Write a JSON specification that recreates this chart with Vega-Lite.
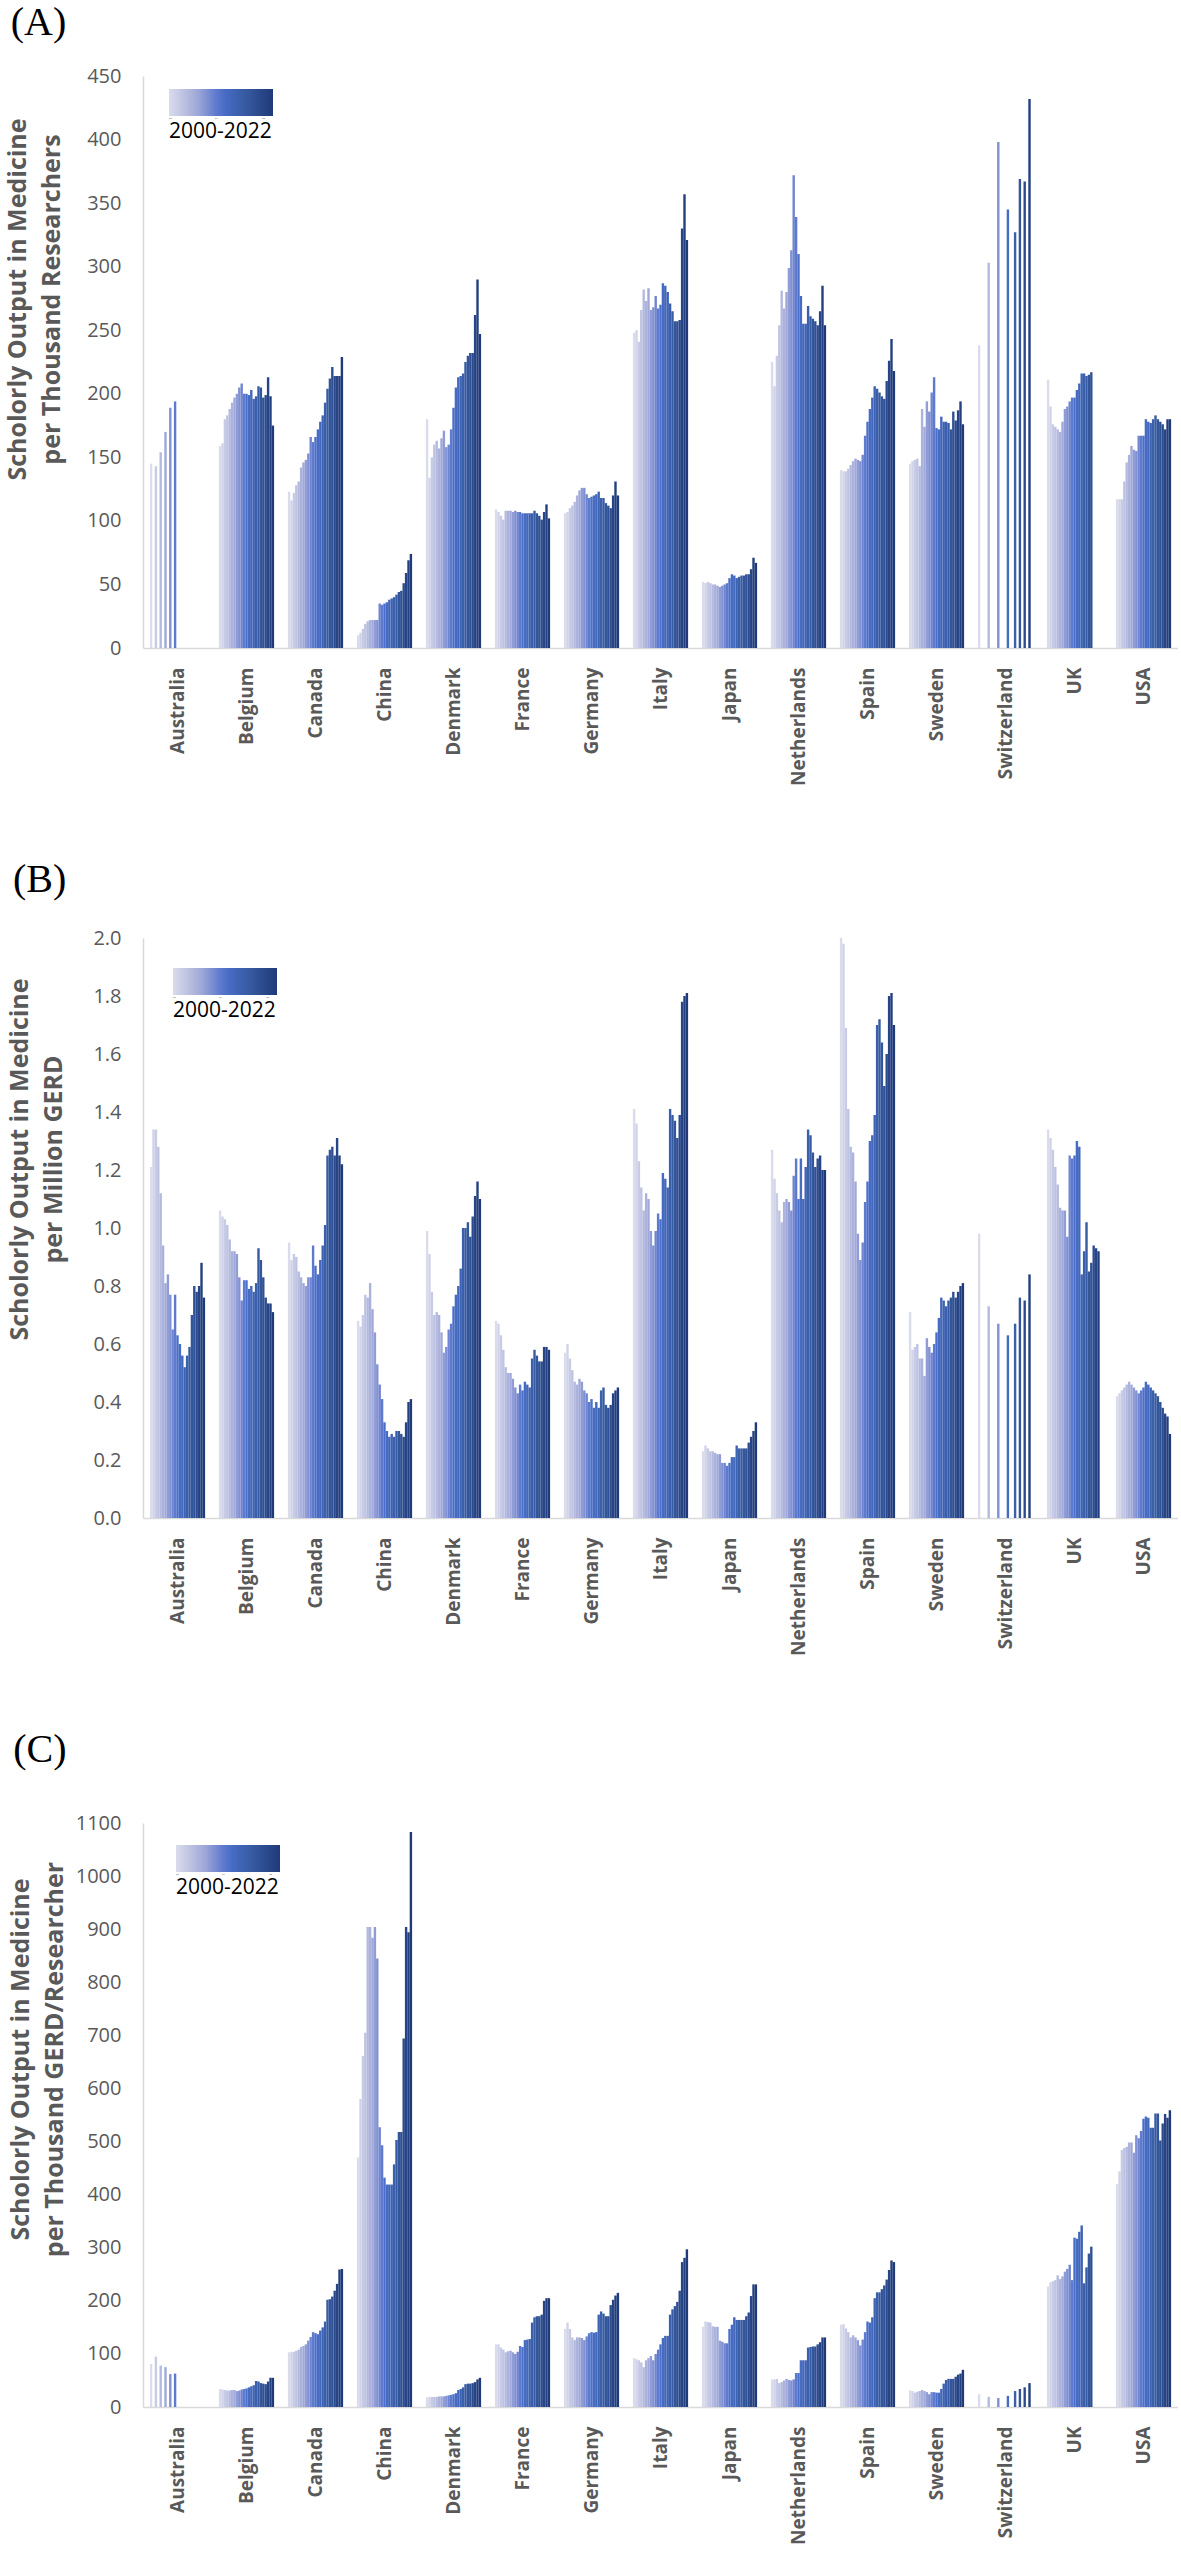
{
  "$schema": "https://vega.github.io/schema/vega-lite/v6.json",
  "description": "Scholarly output in medicine per researchers, per GERD and per GERD/researcher, 15 countries, 2000-2022.",
  "padding": {"top": 3, "left": 5, "right": 0, "bottom": 0},
  "background": "white",
  "datasets": {
    "a": [
      {"country":"Australia","year":2000,"value":145},{"country":"Australia","year":2002,"value":143},{"country":"Australia","year":2004,"value":154},{"country":"Australia","year":2006,"value":170},{"country":"Australia","year":2008,"value":189},{"country":"Australia","year":2010,"value":194},
      {"country":"Belgium","year":2000,"value":159},{"country":"Belgium","year":2001,"value":161},{"country":"Belgium","year":2002,"value":180},{"country":"Belgium","year":2003,"value":183},{"country":"Belgium","year":2004,"value":188},{"country":"Belgium","year":2005,"value":193},{"country":"Belgium","year":2006,"value":197},{"country":"Belgium","year":2007,"value":200},{"country":"Belgium","year":2008,"value":205},{"country":"Belgium","year":2009,"value":208},{"country":"Belgium","year":2010,"value":200},{"country":"Belgium","year":2011,"value":200},{"country":"Belgium","year":2012,"value":199},{"country":"Belgium","year":2013,"value":203},{"country":"Belgium","year":2014,"value":196},{"country":"Belgium","year":2015,"value":198},{"country":"Belgium","year":2016,"value":206},{"country":"Belgium","year":2017,"value":205},{"country":"Belgium","year":2018,"value":197},{"country":"Belgium","year":2019,"value":199},{"country":"Belgium","year":2020,"value":213},{"country":"Belgium","year":2021,"value":198},{"country":"Belgium","year":2022,"value":175},
      {"country":"Canada","year":2000,"value":123},{"country":"Canada","year":2001,"value":116},{"country":"Canada","year":2002,"value":122},{"country":"Canada","year":2003,"value":128},{"country":"Canada","year":2004,"value":131},{"country":"Canada","year":2005,"value":142},{"country":"Canada","year":2006,"value":146},{"country":"Canada","year":2007,"value":148},{"country":"Canada","year":2008,"value":153},{"country":"Canada","year":2009,"value":166},{"country":"Canada","year":2010,"value":162},{"country":"Canada","year":2011,"value":166},{"country":"Canada","year":2012,"value":172},{"country":"Canada","year":2013,"value":178},{"country":"Canada","year":2014,"value":183},{"country":"Canada","year":2015,"value":193},{"country":"Canada","year":2016,"value":204},{"country":"Canada","year":2017,"value":212},{"country":"Canada","year":2018,"value":221},{"country":"Canada","year":2019,"value":214},{"country":"Canada","year":2020,"value":214},{"country":"Canada","year":2021,"value":214},{"country":"Canada","year":2022,"value":229},
      {"country":"China","year":2000,"value":10},{"country":"China","year":2001,"value":12},{"country":"China","year":2002,"value":15},{"country":"China","year":2003,"value":19},{"country":"China","year":2004,"value":21},{"country":"China","year":2005,"value":22},{"country":"China","year":2006,"value":22},{"country":"China","year":2007,"value":22},{"country":"China","year":2008,"value":22},{"country":"China","year":2009,"value":35},{"country":"China","year":2010,"value":34},{"country":"China","year":2011,"value":35},{"country":"China","year":2012,"value":36},{"country":"China","year":2013,"value":38},{"country":"China","year":2014,"value":39},{"country":"China","year":2015,"value":40},{"country":"China","year":2016,"value":42},{"country":"China","year":2017,"value":44},{"country":"China","year":2018,"value":45},{"country":"China","year":2019,"value":51},{"country":"China","year":2020,"value":59},{"country":"China","year":2021,"value":69},{"country":"China","year":2022,"value":74},
      {"country":"Denmark","year":2000,"value":180},{"country":"Denmark","year":2001,"value":134},{"country":"Denmark","year":2002,"value":150},{"country":"Denmark","year":2003,"value":160},{"country":"Denmark","year":2004,"value":163},{"country":"Denmark","year":2005,"value":157},{"country":"Denmark","year":2006,"value":165},{"country":"Denmark","year":2007,"value":171},{"country":"Denmark","year":2008,"value":158},{"country":"Denmark","year":2009,"value":160},{"country":"Denmark","year":2010,"value":172},{"country":"Denmark","year":2011,"value":189},{"country":"Denmark","year":2012,"value":205},{"country":"Denmark","year":2013,"value":213},{"country":"Denmark","year":2014,"value":214},{"country":"Denmark","year":2015,"value":216},{"country":"Denmark","year":2016,"value":225},{"country":"Denmark","year":2017,"value":230},{"country":"Denmark","year":2018,"value":232},{"country":"Denmark","year":2019,"value":232},{"country":"Denmark","year":2020,"value":262},{"country":"Denmark","year":2021,"value":290},{"country":"Denmark","year":2022,"value":247},
      {"country":"France","year":2000,"value":109},{"country":"France","year":2001,"value":107},{"country":"France","year":2002,"value":104},{"country":"France","year":2003,"value":101},{"country":"France","year":2004,"value":108},{"country":"France","year":2005,"value":108},{"country":"France","year":2006,"value":108},{"country":"France","year":2007,"value":107},{"country":"France","year":2008,"value":108},{"country":"France","year":2009,"value":107},{"country":"France","year":2010,"value":107},{"country":"France","year":2011,"value":106},{"country":"France","year":2012,"value":106},{"country":"France","year":2013,"value":106},{"country":"France","year":2014,"value":106},{"country":"France","year":2015,"value":106},{"country":"France","year":2016,"value":108},{"country":"France","year":2017,"value":106},{"country":"France","year":2018,"value":104},{"country":"France","year":2019,"value":101},{"country":"France","year":2020,"value":107},{"country":"France","year":2021,"value":113},{"country":"France","year":2022,"value":102},
      {"country":"Germany","year":2000,"value":106},{"country":"Germany","year":2001,"value":107},{"country":"Germany","year":2002,"value":110},{"country":"Germany","year":2003,"value":112},{"country":"Germany","year":2004,"value":115},{"country":"Germany","year":2005,"value":120},{"country":"Germany","year":2006,"value":124},{"country":"Germany","year":2007,"value":126},{"country":"Germany","year":2008,"value":126},{"country":"Germany","year":2009,"value":121},{"country":"Germany","year":2010,"value":118},{"country":"Germany","year":2011,"value":119},{"country":"Germany","year":2012,"value":120},{"country":"Germany","year":2013,"value":121},{"country":"Germany","year":2014,"value":123},{"country":"Germany","year":2015,"value":118},{"country":"Germany","year":2016,"value":118},{"country":"Germany","year":2017,"value":114},{"country":"Germany","year":2018,"value":112},{"country":"Germany","year":2019,"value":110},{"country":"Germany","year":2020,"value":120},{"country":"Germany","year":2021,"value":131},{"country":"Germany","year":2022,"value":120},
      {"country":"Italy","year":2000,"value":248},{"country":"Italy","year":2001,"value":250},{"country":"Italy","year":2002,"value":241},{"country":"Italy","year":2003,"value":266},{"country":"Italy","year":2004,"value":282},{"country":"Italy","year":2005,"value":273},{"country":"Italy","year":2006,"value":283},{"country":"Italy","year":2007,"value":266},{"country":"Italy","year":2008,"value":268},{"country":"Italy","year":2009,"value":277},{"country":"Italy","year":2010,"value":267},{"country":"Italy","year":2011,"value":270},{"country":"Italy","year":2012,"value":287},{"country":"Italy","year":2013,"value":285},{"country":"Italy","year":2014,"value":280},{"country":"Italy","year":2015,"value":271},{"country":"Italy","year":2016,"value":265},{"country":"Italy","year":2017,"value":257},{"country":"Italy","year":2018,"value":257},{"country":"Italy","year":2019,"value":258},{"country":"Italy","year":2020,"value":330},{"country":"Italy","year":2021,"value":357},{"country":"Italy","year":2022,"value":321},
      {"country":"Japan","year":2000,"value":52},{"country":"Japan","year":2001,"value":51},{"country":"Japan","year":2002,"value":52},{"country":"Japan","year":2003,"value":51},{"country":"Japan","year":2004,"value":50},{"country":"Japan","year":2005,"value":50},{"country":"Japan","year":2006,"value":49},{"country":"Japan","year":2007,"value":48},{"country":"Japan","year":2008,"value":49},{"country":"Japan","year":2009,"value":50},{"country":"Japan","year":2010,"value":51},{"country":"Japan","year":2011,"value":55},{"country":"Japan","year":2012,"value":58},{"country":"Japan","year":2013,"value":57},{"country":"Japan","year":2014,"value":55},{"country":"Japan","year":2015,"value":56},{"country":"Japan","year":2016,"value":57},{"country":"Japan","year":2017,"value":57},{"country":"Japan","year":2018,"value":58},{"country":"Japan","year":2019,"value":58},{"country":"Japan","year":2020,"value":62},{"country":"Japan","year":2021,"value":71},{"country":"Japan","year":2022,"value":67},
      {"country":"Netherlands","year":2000,"value":225},{"country":"Netherlands","year":2001,"value":206},{"country":"Netherlands","year":2002,"value":230},{"country":"Netherlands","year":2003,"value":254},{"country":"Netherlands","year":2004,"value":281},{"country":"Netherlands","year":2005,"value":267},{"country":"Netherlands","year":2006,"value":280},{"country":"Netherlands","year":2007,"value":299},{"country":"Netherlands","year":2008,"value":313},{"country":"Netherlands","year":2009,"value":372},{"country":"Netherlands","year":2010,"value":339},{"country":"Netherlands","year":2011,"value":310},{"country":"Netherlands","year":2012,"value":277},{"country":"Netherlands","year":2013,"value":255},{"country":"Netherlands","year":2014,"value":255},{"country":"Netherlands","year":2015,"value":269},{"country":"Netherlands","year":2016,"value":261},{"country":"Netherlands","year":2017,"value":259},{"country":"Netherlands","year":2018,"value":257},{"country":"Netherlands","year":2019,"value":254},{"country":"Netherlands","year":2020,"value":265},{"country":"Netherlands","year":2021,"value":285},{"country":"Netherlands","year":2022,"value":254},
      {"country":"Spain","year":2000,"value":140},{"country":"Spain","year":2001,"value":139},{"country":"Spain","year":2002,"value":139},{"country":"Spain","year":2003,"value":141},{"country":"Spain","year":2004,"value":144},{"country":"Spain","year":2005,"value":147},{"country":"Spain","year":2006,"value":149},{"country":"Spain","year":2007,"value":148},{"country":"Spain","year":2008,"value":147},{"country":"Spain","year":2009,"value":152},{"country":"Spain","year":2010,"value":167},{"country":"Spain","year":2011,"value":178},{"country":"Spain","year":2012,"value":188},{"country":"Spain","year":2013,"value":197},{"country":"Spain","year":2014,"value":206},{"country":"Spain","year":2015,"value":204},{"country":"Spain","year":2016,"value":201},{"country":"Spain","year":2017,"value":198},{"country":"Spain","year":2018,"value":196},{"country":"Spain","year":2019,"value":210},{"country":"Spain","year":2020,"value":226},{"country":"Spain","year":2021,"value":243},{"country":"Spain","year":2022,"value":218},
      {"country":"Sweden","year":2000,"value":145},{"country":"Sweden","year":2001,"value":147},{"country":"Sweden","year":2002,"value":148},{"country":"Sweden","year":2003,"value":149},{"country":"Sweden","year":2004,"value":143},{"country":"Sweden","year":2005,"value":188},{"country":"Sweden","year":2006,"value":174},{"country":"Sweden","year":2007,"value":194},{"country":"Sweden","year":2008,"value":186},{"country":"Sweden","year":2009,"value":201},{"country":"Sweden","year":2010,"value":213},{"country":"Sweden","year":2011,"value":173},{"country":"Sweden","year":2012,"value":172},{"country":"Sweden","year":2013,"value":182},{"country":"Sweden","year":2014,"value":178},{"country":"Sweden","year":2015,"value":178},{"country":"Sweden","year":2016,"value":177},{"country":"Sweden","year":2017,"value":172},{"country":"Sweden","year":2018,"value":186},{"country":"Sweden","year":2019,"value":179},{"country":"Sweden","year":2020,"value":187},{"country":"Sweden","year":2021,"value":194},{"country":"Sweden","year":2022,"value":176},
      {"country":"Switzerland","year":2000,"value":238},{"country":"Switzerland","year":2004,"value":303},{"country":"Switzerland","year":2008,"value":398},{"country":"Switzerland","year":2012,"value":345},{"country":"Switzerland","year":2015,"value":327},{"country":"Switzerland","year":2017,"value":369},{"country":"Switzerland","year":2019,"value":367},{"country":"Switzerland","year":2021,"value":432},
      {"country":"UK","year":2000,"value":211},{"country":"UK","year":2001,"value":190},{"country":"UK","year":2002,"value":176},{"country":"UK","year":2003,"value":174},{"country":"UK","year":2004,"value":172},{"country":"UK","year":2005,"value":170},{"country":"UK","year":2006,"value":178},{"country":"UK","year":2007,"value":188},{"country":"UK","year":2008,"value":190},{"country":"UK","year":2009,"value":194},{"country":"UK","year":2010,"value":197},{"country":"UK","year":2011,"value":197},{"country":"UK","year":2012,"value":203},{"country":"UK","year":2013,"value":208},{"country":"UK","year":2014,"value":216},{"country":"UK","year":2015,"value":216},{"country":"UK","year":2016,"value":214},{"country":"UK","year":2017,"value":215},{"country":"UK","year":2018,"value":217},
      {"country":"USA","year":2000,"value":117},{"country":"USA","year":2001,"value":117},{"country":"USA","year":2002,"value":117},{"country":"USA","year":2003,"value":131},{"country":"USA","year":2004,"value":146},{"country":"USA","year":2005,"value":152},{"country":"USA","year":2006,"value":159},{"country":"USA","year":2007,"value":156},{"country":"USA","year":2008,"value":155},{"country":"USA","year":2009,"value":167},{"country":"USA","year":2010,"value":167},{"country":"USA","year":2011,"value":167},{"country":"USA","year":2012,"value":180},{"country":"USA","year":2013,"value":178},{"country":"USA","year":2014,"value":177},{"country":"USA","year":2015,"value":180},{"country":"USA","year":2016,"value":183},{"country":"USA","year":2017,"value":180},{"country":"USA","year":2018,"value":178},{"country":"USA","year":2019,"value":176},{"country":"USA","year":2020,"value":172},{"country":"USA","year":2021,"value":180},{"country":"USA","year":2022,"value":180}
    ],
    "b": [
      {"country":"Australia","year":2000,"value":1.21},{"country":"Australia","year":2001,"value":1.34},{"country":"Australia","year":2002,"value":1.34},{"country":"Australia","year":2003,"value":1.28},{"country":"Australia","year":2004,"value":1.12},{"country":"Australia","year":2005,"value":0.94},{"country":"Australia","year":2006,"value":0.81},{"country":"Australia","year":2007,"value":0.84},{"country":"Australia","year":2008,"value":0.77},{"country":"Australia","year":2009,"value":0.65},{"country":"Australia","year":2010,"value":0.77},{"country":"Australia","year":2011,"value":0.63},{"country":"Australia","year":2012,"value":0.6},{"country":"Australia","year":2013,"value":0.56},{"country":"Australia","year":2014,"value":0.52},{"country":"Australia","year":2015,"value":0.56},{"country":"Australia","year":2016,"value":0.59},{"country":"Australia","year":2017,"value":0.7},{"country":"Australia","year":2018,"value":0.8},{"country":"Australia","year":2019,"value":0.78},{"country":"Australia","year":2020,"value":0.8},{"country":"Australia","year":2021,"value":0.88},{"country":"Australia","year":2022,"value":0.76},
      {"country":"Belgium","year":2000,"value":1.06},{"country":"Belgium","year":2001,"value":1.04},{"country":"Belgium","year":2002,"value":1.03},{"country":"Belgium","year":2003,"value":1.01},{"country":"Belgium","year":2004,"value":0.96},{"country":"Belgium","year":2005,"value":0.92},{"country":"Belgium","year":2006,"value":0.92},{"country":"Belgium","year":2007,"value":0.91},{"country":"Belgium","year":2008,"value":0.83},{"country":"Belgium","year":2009,"value":0.75},{"country":"Belgium","year":2010,"value":0.82},{"country":"Belgium","year":2011,"value":0.82},{"country":"Belgium","year":2012,"value":0.79},{"country":"Belgium","year":2013,"value":0.8},{"country":"Belgium","year":2014,"value":0.78},{"country":"Belgium","year":2015,"value":0.81},{"country":"Belgium","year":2016,"value":0.93},{"country":"Belgium","year":2017,"value":0.89},{"country":"Belgium","year":2018,"value":0.83},{"country":"Belgium","year":2019,"value":0.76},{"country":"Belgium","year":2020,"value":0.74},{"country":"Belgium","year":2021,"value":0.74},{"country":"Belgium","year":2022,"value":0.71},
      {"country":"Canada","year":2000,"value":0.95},{"country":"Canada","year":2001,"value":0.89},{"country":"Canada","year":2002,"value":0.91},{"country":"Canada","year":2003,"value":0.9},{"country":"Canada","year":2004,"value":0.85},{"country":"Canada","year":2005,"value":0.83},{"country":"Canada","year":2006,"value":0.81},{"country":"Canada","year":2007,"value":0.8},{"country":"Canada","year":2008,"value":0.83},{"country":"Canada","year":2009,"value":0.83},{"country":"Canada","year":2010,"value":0.94},{"country":"Canada","year":2011,"value":0.87},{"country":"Canada","year":2012,"value":0.84},{"country":"Canada","year":2013,"value":0.89},{"country":"Canada","year":2014,"value":0.94},{"country":"Canada","year":2015,"value":1.01},{"country":"Canada","year":2016,"value":1.25},{"country":"Canada","year":2017,"value":1.27},{"country":"Canada","year":2018,"value":1.28},{"country":"Canada","year":2019,"value":1.25},{"country":"Canada","year":2020,"value":1.31},{"country":"Canada","year":2021,"value":1.25},{"country":"Canada","year":2022,"value":1.22},
      {"country":"China","year":2000,"value":0.68},{"country":"China","year":2001,"value":0.66},{"country":"China","year":2002,"value":0.7},{"country":"China","year":2003,"value":0.77},{"country":"China","year":2004,"value":0.76},{"country":"China","year":2005,"value":0.81},{"country":"China","year":2006,"value":0.72},{"country":"China","year":2007,"value":0.64},{"country":"China","year":2008,"value":0.53},{"country":"China","year":2009,"value":0.46},{"country":"China","year":2010,"value":0.41},{"country":"China","year":2011,"value":0.33},{"country":"China","year":2012,"value":0.3},{"country":"China","year":2013,"value":0.28},{"country":"China","year":2014,"value":0.29},{"country":"China","year":2015,"value":0.28},{"country":"China","year":2016,"value":0.3},{"country":"China","year":2017,"value":0.3},{"country":"China","year":2018,"value":0.29},{"country":"China","year":2019,"value":0.28},{"country":"China","year":2020,"value":0.33},{"country":"China","year":2021,"value":0.4},{"country":"China","year":2022,"value":0.41},
      {"country":"Denmark","year":2000,"value":0.99},{"country":"Denmark","year":2001,"value":0.91},{"country":"Denmark","year":2002,"value":0.78},{"country":"Denmark","year":2003,"value":0.7},{"country":"Denmark","year":2004,"value":0.71},{"country":"Denmark","year":2005,"value":0.7},{"country":"Denmark","year":2006,"value":0.64},{"country":"Denmark","year":2007,"value":0.57},{"country":"Denmark","year":2008,"value":0.59},{"country":"Denmark","year":2009,"value":0.65},{"country":"Denmark","year":2010,"value":0.67},{"country":"Denmark","year":2011,"value":0.73},{"country":"Denmark","year":2012,"value":0.77},{"country":"Denmark","year":2013,"value":0.8},{"country":"Denmark","year":2014,"value":0.86},{"country":"Denmark","year":2015,"value":1.0},{"country":"Denmark","year":2016,"value":1.0},{"country":"Denmark","year":2017,"value":1.02},{"country":"Denmark","year":2018,"value":0.97},{"country":"Denmark","year":2019,"value":1.04},{"country":"Denmark","year":2020,"value":1.11},{"country":"Denmark","year":2021,"value":1.16},{"country":"Denmark","year":2022,"value":1.1},
      {"country":"France","year":2000,"value":0.68},{"country":"France","year":2001,"value":0.67},{"country":"France","year":2002,"value":0.63},{"country":"France","year":2003,"value":0.58},{"country":"France","year":2004,"value":0.52},{"country":"France","year":2005,"value":0.5},{"country":"France","year":2006,"value":0.5},{"country":"France","year":2007,"value":0.48},{"country":"France","year":2008,"value":0.45},{"country":"France","year":2009,"value":0.43},{"country":"France","year":2010,"value":0.46},{"country":"France","year":2011,"value":0.44},{"country":"France","year":2012,"value":0.47},{"country":"France","year":2013,"value":0.46},{"country":"France","year":2014,"value":0.45},{"country":"France","year":2015,"value":0.55},{"country":"France","year":2016,"value":0.58},{"country":"France","year":2017,"value":0.56},{"country":"France","year":2018,"value":0.54},{"country":"France","year":2019,"value":0.54},{"country":"France","year":2020,"value":0.59},{"country":"France","year":2021,"value":0.59},{"country":"France","year":2022,"value":0.58},
      {"country":"Germany","year":2000,"value":0.57},{"country":"Germany","year":2001,"value":0.6},{"country":"Germany","year":2002,"value":0.55},{"country":"Germany","year":2003,"value":0.51},{"country":"Germany","year":2004,"value":0.47},{"country":"Germany","year":2005,"value":0.46},{"country":"Germany","year":2006,"value":0.48},{"country":"Germany","year":2007,"value":0.47},{"country":"Germany","year":2008,"value":0.44},{"country":"Germany","year":2009,"value":0.43},{"country":"Germany","year":2010,"value":0.4},{"country":"Germany","year":2011,"value":0.41},{"country":"Germany","year":2012,"value":0.38},{"country":"Germany","year":2013,"value":0.4},{"country":"Germany","year":2014,"value":0.38},{"country":"Germany","year":2015,"value":0.44},{"country":"Germany","year":2016,"value":0.45},{"country":"Germany","year":2017,"value":0.39},{"country":"Germany","year":2018,"value":0.38},{"country":"Germany","year":2019,"value":0.39},{"country":"Germany","year":2020,"value":0.43},{"country":"Germany","year":2021,"value":0.44},{"country":"Germany","year":2022,"value":0.45},
      {"country":"Italy","year":2000,"value":1.41},{"country":"Italy","year":2001,"value":1.36},{"country":"Italy","year":2002,"value":1.23},{"country":"Italy","year":2003,"value":1.14},{"country":"Italy","year":2004,"value":1.06},{"country":"Italy","year":2005,"value":1.12},{"country":"Italy","year":2006,"value":1.1},{"country":"Italy","year":2007,"value":0.99},{"country":"Italy","year":2008,"value":0.94},{"country":"Italy","year":2009,"value":0.99},{"country":"Italy","year":2010,"value":1.05},{"country":"Italy","year":2011,"value":1.03},{"country":"Italy","year":2012,"value":1.19},{"country":"Italy","year":2013,"value":1.17},{"country":"Italy","year":2014,"value":1.14},{"country":"Italy","year":2015,"value":1.41},{"country":"Italy","year":2016,"value":1.39},{"country":"Italy","year":2017,"value":1.37},{"country":"Italy","year":2018,"value":1.31},{"country":"Italy","year":2019,"value":1.39},{"country":"Italy","year":2020,"value":1.78},{"country":"Italy","year":2021,"value":1.8},{"country":"Italy","year":2022,"value":1.81},
      {"country":"Japan","year":2000,"value":0.23},{"country":"Japan","year":2001,"value":0.25},{"country":"Japan","year":2002,"value":0.24},{"country":"Japan","year":2003,"value":0.23},{"country":"Japan","year":2004,"value":0.23},{"country":"Japan","year":2005,"value":0.225},{"country":"Japan","year":2006,"value":0.22},{"country":"Japan","year":2007,"value":0.22},{"country":"Japan","year":2008,"value":0.19},{"country":"Japan","year":2009,"value":0.19},{"country":"Japan","year":2010,"value":0.18},{"country":"Japan","year":2011,"value":0.19},{"country":"Japan","year":2012,"value":0.21},{"country":"Japan","year":2013,"value":0.21},{"country":"Japan","year":2014,"value":0.25},{"country":"Japan","year":2015,"value":0.24},{"country":"Japan","year":2016,"value":0.24},{"country":"Japan","year":2017,"value":0.24},{"country":"Japan","year":2018,"value":0.24},{"country":"Japan","year":2019,"value":0.26},{"country":"Japan","year":2020,"value":0.28},{"country":"Japan","year":2021,"value":0.3},{"country":"Japan","year":2022,"value":0.33},
      {"country":"Netherlands","year":2000,"value":1.27},{"country":"Netherlands","year":2001,"value":1.17},{"country":"Netherlands","year":2002,"value":1.12},{"country":"Netherlands","year":2003,"value":1.06},{"country":"Netherlands","year":2004,"value":1.02},{"country":"Netherlands","year":2005,"value":1.09},{"country":"Netherlands","year":2006,"value":1.1},{"country":"Netherlands","year":2007,"value":1.09},{"country":"Netherlands","year":2008,"value":1.06},{"country":"Netherlands","year":2009,"value":1.18},{"country":"Netherlands","year":2010,"value":1.24},{"country":"Netherlands","year":2011,"value":1.1},{"country":"Netherlands","year":2012,"value":1.24},{"country":"Netherlands","year":2013,"value":1.1},{"country":"Netherlands","year":2014,"value":1.21},{"country":"Netherlands","year":2015,"value":1.34},{"country":"Netherlands","year":2016,"value":1.32},{"country":"Netherlands","year":2017,"value":1.26},{"country":"Netherlands","year":2018,"value":1.21},{"country":"Netherlands","year":2019,"value":1.24},{"country":"Netherlands","year":2020,"value":1.25},{"country":"Netherlands","year":2021,"value":1.2},{"country":"Netherlands","year":2022,"value":1.2},
      {"country":"Spain","year":2000,"value":2.0},{"country":"Spain","year":2001,"value":1.98},{"country":"Spain","year":2002,"value":1.69},{"country":"Spain","year":2003,"value":1.41},{"country":"Spain","year":2004,"value":1.28},{"country":"Spain","year":2005,"value":1.26},{"country":"Spain","year":2006,"value":1.16},{"country":"Spain","year":2007,"value":0.98},{"country":"Spain","year":2008,"value":0.89},{"country":"Spain","year":2009,"value":0.95},{"country":"Spain","year":2010,"value":1.09},{"country":"Spain","year":2011,"value":1.16},{"country":"Spain","year":2012,"value":1.3},{"country":"Spain","year":2013,"value":1.32},{"country":"Spain","year":2014,"value":1.39},{"country":"Spain","year":2015,"value":1.7},{"country":"Spain","year":2016,"value":1.72},{"country":"Spain","year":2017,"value":1.64},{"country":"Spain","year":2018,"value":1.49},{"country":"Spain","year":2019,"value":1.6},{"country":"Spain","year":2020,"value":1.8},{"country":"Spain","year":2021,"value":1.81},{"country":"Spain","year":2022,"value":1.7},
      {"country":"Sweden","year":2000,"value":0.71},{"country":"Sweden","year":2001,"value":0.58},{"country":"Sweden","year":2002,"value":0.59},{"country":"Sweden","year":2003,"value":0.6},{"country":"Sweden","year":2004,"value":0.55},{"country":"Sweden","year":2005,"value":0.55},{"country":"Sweden","year":2006,"value":0.49},{"country":"Sweden","year":2007,"value":0.62},{"country":"Sweden","year":2008,"value":0.59},{"country":"Sweden","year":2009,"value":0.57},{"country":"Sweden","year":2010,"value":0.6},{"country":"Sweden","year":2011,"value":0.64},{"country":"Sweden","year":2012,"value":0.69},{"country":"Sweden","year":2013,"value":0.76},{"country":"Sweden","year":2014,"value":0.75},{"country":"Sweden","year":2015,"value":0.73},{"country":"Sweden","year":2016,"value":0.75},{"country":"Sweden","year":2017,"value":0.76},{"country":"Sweden","year":2018,"value":0.78},{"country":"Sweden","year":2019,"value":0.76},{"country":"Sweden","year":2020,"value":0.78},{"country":"Sweden","year":2021,"value":0.8},{"country":"Sweden","year":2022,"value":0.81},
      {"country":"Switzerland","year":2000,"value":0.98},{"country":"Switzerland","year":2004,"value":0.73},{"country":"Switzerland","year":2008,"value":0.67},{"country":"Switzerland","year":2012,"value":0.63},{"country":"Switzerland","year":2015,"value":0.67},{"country":"Switzerland","year":2017,"value":0.76},{"country":"Switzerland","year":2019,"value":0.75},{"country":"Switzerland","year":2021,"value":0.84},
      {"country":"UK","year":2000,"value":1.34},{"country":"UK","year":2001,"value":1.31},{"country":"UK","year":2002,"value":1.27},{"country":"UK","year":2003,"value":1.21},{"country":"UK","year":2004,"value":1.15},{"country":"UK","year":2005,"value":1.07},{"country":"UK","year":2006,"value":1.06},{"country":"UK","year":2007,"value":1.06},{"country":"UK","year":2008,"value":0.97},{"country":"UK","year":2009,"value":1.25},{"country":"UK","year":2010,"value":1.24},{"country":"UK","year":2011,"value":1.25},{"country":"UK","year":2012,"value":1.3},{"country":"UK","year":2013,"value":1.28},{"country":"UK","year":2014,"value":0.84},{"country":"UK","year":2015,"value":0.92},{"country":"UK","year":2016,"value":1.02},{"country":"UK","year":2017,"value":0.85},{"country":"UK","year":2018,"value":0.88},{"country":"UK","year":2019,"value":0.94},{"country":"UK","year":2020,"value":0.93},{"country":"UK","year":2021,"value":0.92},
      {"country":"USA","year":2000,"value":0.42},{"country":"USA","year":2001,"value":0.43},{"country":"USA","year":2002,"value":0.44},{"country":"USA","year":2003,"value":0.45},{"country":"USA","year":2004,"value":0.46},{"country":"USA","year":2005,"value":0.47},{"country":"USA","year":2006,"value":0.46},{"country":"USA","year":2007,"value":0.45},{"country":"USA","year":2008,"value":0.44},{"country":"USA","year":2009,"value":0.43},{"country":"USA","year":2010,"value":0.44},{"country":"USA","year":2011,"value":0.45},{"country":"USA","year":2012,"value":0.47},{"country":"USA","year":2013,"value":0.46},{"country":"USA","year":2014,"value":0.45},{"country":"USA","year":2015,"value":0.44},{"country":"USA","year":2016,"value":0.43},{"country":"USA","year":2017,"value":0.42},{"country":"USA","year":2018,"value":0.4},{"country":"USA","year":2019,"value":0.38},{"country":"USA","year":2020,"value":0.36},{"country":"USA","year":2021,"value":0.35},{"country":"USA","year":2022,"value":0.29}
    ],
    "c": [
      {"country":"Australia","year":2000,"value":81},{"country":"Australia","year":2002,"value":95},{"country":"Australia","year":2004,"value":78},{"country":"Australia","year":2006,"value":75},{"country":"Australia","year":2008,"value":62},{"country":"Australia","year":2010,"value":63},
      {"country":"Belgium","year":2000,"value":34},{"country":"Belgium","year":2001,"value":33},{"country":"Belgium","year":2002,"value":32},{"country":"Belgium","year":2003,"value":31},{"country":"Belgium","year":2004,"value":31},{"country":"Belgium","year":2005,"value":32},{"country":"Belgium","year":2006,"value":32},{"country":"Belgium","year":2007,"value":30},{"country":"Belgium","year":2008,"value":31},{"country":"Belgium","year":2009,"value":33},{"country":"Belgium","year":2010,"value":34},{"country":"Belgium","year":2011,"value":35},{"country":"Belgium","year":2012,"value":37},{"country":"Belgium","year":2013,"value":39},{"country":"Belgium","year":2014,"value":41},{"country":"Belgium","year":2015,"value":49},{"country":"Belgium","year":2016,"value":48},{"country":"Belgium","year":2017,"value":45},{"country":"Belgium","year":2018,"value":44},{"country":"Belgium","year":2019,"value":43},{"country":"Belgium","year":2020,"value":48},{"country":"Belgium","year":2021,"value":55},{"country":"Belgium","year":2022,"value":55},
      {"country":"Canada","year":2000,"value":103},{"country":"Canada","year":2001,"value":104},{"country":"Canada","year":2002,"value":104},{"country":"Canada","year":2003,"value":106},{"country":"Canada","year":2004,"value":108},{"country":"Canada","year":2005,"value":113},{"country":"Canada","year":2006,"value":115},{"country":"Canada","year":2007,"value":118},{"country":"Canada","year":2008,"value":125},{"country":"Canada","year":2009,"value":132},{"country":"Canada","year":2010,"value":141},{"country":"Canada","year":2011,"value":139},{"country":"Canada","year":2012,"value":137},{"country":"Canada","year":2013,"value":144},{"country":"Canada","year":2014,"value":150},{"country":"Canada","year":2015,"value":161},{"country":"Canada","year":2016,"value":202},{"country":"Canada","year":2017,"value":203},{"country":"Canada","year":2018,"value":208},{"country":"Canada","year":2019,"value":219},{"country":"Canada","year":2020,"value":232},{"country":"Canada","year":2021,"value":259},{"country":"Canada","year":2022,"value":260},
      {"country":"China","year":2000,"value":470},{"country":"China","year":2001,"value":580},{"country":"China","year":2002,"value":661},{"country":"China","year":2003,"value":705},{"country":"China","year":2004,"value":904},{"country":"China","year":2005,"value":904},{"country":"China","year":2006,"value":884},{"country":"China","year":2007,"value":904},{"country":"China","year":2008,"value":845},{"country":"China","year":2009,"value":527},{"country":"China","year":2010,"value":493},{"country":"China","year":2011,"value":432},{"country":"China","year":2012,"value":419},{"country":"China","year":2013,"value":419},{"country":"China","year":2014,"value":419},{"country":"China","year":2015,"value":457},{"country":"China","year":2016,"value":503},{"country":"China","year":2017,"value":518},{"country":"China","year":2018,"value":518},{"country":"China","year":2019,"value":694},{"country":"China","year":2020,"value":904},{"country":"China","year":2021,"value":894},{"country":"China","year":2022,"value":1083},
      {"country":"Denmark","year":2000,"value":18},{"country":"Denmark","year":2001,"value":19},{"country":"Denmark","year":2002,"value":19},{"country":"Denmark","year":2003,"value":19},{"country":"Denmark","year":2004,"value":19},{"country":"Denmark","year":2005,"value":20},{"country":"Denmark","year":2006,"value":20},{"country":"Denmark","year":2007,"value":20},{"country":"Denmark","year":2008,"value":21},{"country":"Denmark","year":2009,"value":22},{"country":"Denmark","year":2010,"value":23},{"country":"Denmark","year":2011,"value":24},{"country":"Denmark","year":2012,"value":26},{"country":"Denmark","year":2013,"value":32},{"country":"Denmark","year":2014,"value":34},{"country":"Denmark","year":2015,"value":37},{"country":"Denmark","year":2016,"value":43},{"country":"Denmark","year":2017,"value":44},{"country":"Denmark","year":2018,"value":44},{"country":"Denmark","year":2019,"value":45},{"country":"Denmark","year":2020,"value":47},{"country":"Denmark","year":2021,"value":52},{"country":"Denmark","year":2022,"value":55},
      {"country":"France","year":2000,"value":118},{"country":"France","year":2001,"value":118},{"country":"France","year":2002,"value":112},{"country":"France","year":2003,"value":108},{"country":"France","year":2004,"value":103},{"country":"France","year":2005,"value":105},{"country":"France","year":2006,"value":106},{"country":"France","year":2007,"value":103},{"country":"France","year":2008,"value":100},{"country":"France","year":2009,"value":104},{"country":"France","year":2010,"value":115},{"country":"France","year":2011,"value":113},{"country":"France","year":2012,"value":126},{"country":"France","year":2013,"value":127},{"country":"France","year":2014,"value":128},{"country":"France","year":2015,"value":159},{"country":"France","year":2016,"value":169},{"country":"France","year":2017,"value":171},{"country":"France","year":2018,"value":171},{"country":"France","year":2019,"value":174},{"country":"France","year":2020,"value":200},{"country":"France","year":2021,"value":205},{"country":"France","year":2022,"value":205},
      {"country":"Germany","year":2000,"value":147},{"country":"Germany","year":2001,"value":159},{"country":"Germany","year":2002,"value":147},{"country":"Germany","year":2003,"value":131},{"country":"Germany","year":2004,"value":126},{"country":"Germany","year":2005,"value":131},{"country":"Germany","year":2006,"value":131},{"country":"Germany","year":2007,"value":130},{"country":"Germany","year":2008,"value":126},{"country":"Germany","year":2009,"value":133},{"country":"Germany","year":2010,"value":139},{"country":"Germany","year":2011,"value":141},{"country":"Germany","year":2012,"value":140},{"country":"Germany","year":2013,"value":141},{"country":"Germany","year":2014,"value":174},{"country":"Germany","year":2015,"value":180},{"country":"Germany","year":2016,"value":176},{"country":"Germany","year":2017,"value":171},{"country":"Germany","year":2018,"value":171},{"country":"Germany","year":2019,"value":192},{"country":"Germany","year":2020,"value":202},{"country":"Germany","year":2021,"value":210},{"country":"Germany","year":2022,"value":215},
      {"country":"Italy","year":2000,"value":92},{"country":"Italy","year":2001,"value":90},{"country":"Italy","year":2002,"value":88},{"country":"Italy","year":2003,"value":84},{"country":"Italy","year":2004,"value":75},{"country":"Italy","year":2005,"value":88},{"country":"Italy","year":2006,"value":92},{"country":"Italy","year":2007,"value":96},{"country":"Italy","year":2008,"value":88},{"country":"Italy","year":2009,"value":100},{"country":"Italy","year":2010,"value":108},{"country":"Italy","year":2011,"value":118},{"country":"Italy","year":2012,"value":130},{"country":"Italy","year":2013,"value":134},{"country":"Italy","year":2014,"value":134},{"country":"Italy","year":2015,"value":174},{"country":"Italy","year":2016,"value":184},{"country":"Italy","year":2017,"value":190},{"country":"Italy","year":2018,"value":198},{"country":"Italy","year":2019,"value":219},{"country":"Italy","year":2020,"value":273},{"country":"Italy","year":2021,"value":281},{"country":"Italy","year":2022,"value":297},
      {"country":"Japan","year":2000,"value":151},{"country":"Japan","year":2001,"value":161},{"country":"Japan","year":2002,"value":160},{"country":"Japan","year":2003,"value":159},{"country":"Japan","year":2004,"value":152},{"country":"Japan","year":2005,"value":151},{"country":"Japan","year":2006,"value":151},{"country":"Japan","year":2007,"value":125},{"country":"Japan","year":2008,"value":123},{"country":"Japan","year":2009,"value":120},{"country":"Japan","year":2010,"value":120},{"country":"Japan","year":2011,"value":147},{"country":"Japan","year":2012,"value":155},{"country":"Japan","year":2013,"value":169},{"country":"Japan","year":2014,"value":164},{"country":"Japan","year":2015,"value":164},{"country":"Japan","year":2016,"value":164},{"country":"Japan","year":2017,"value":164},{"country":"Japan","year":2018,"value":171},{"country":"Japan","year":2019,"value":178},{"country":"Japan","year":2020,"value":209},{"country":"Japan","year":2021,"value":231},{"country":"Japan","year":2022,"value":231},
      {"country":"Netherlands","year":2000,"value":52},{"country":"Netherlands","year":2001,"value":52},{"country":"Netherlands","year":2002,"value":53},{"country":"Netherlands","year":2003,"value":45},{"country":"Netherlands","year":2004,"value":47},{"country":"Netherlands","year":2005,"value":50},{"country":"Netherlands","year":2006,"value":53},{"country":"Netherlands","year":2007,"value":51},{"country":"Netherlands","year":2008,"value":50},{"country":"Netherlands","year":2009,"value":52},{"country":"Netherlands","year":2010,"value":64},{"country":"Netherlands","year":2011,"value":64},{"country":"Netherlands","year":2012,"value":88},{"country":"Netherlands","year":2013,"value":88},{"country":"Netherlands","year":2014,"value":88},{"country":"Netherlands","year":2015,"value":112},{"country":"Netherlands","year":2016,"value":113},{"country":"Netherlands","year":2017,"value":114},{"country":"Netherlands","year":2018,"value":114},{"country":"Netherlands","year":2019,"value":118},{"country":"Netherlands","year":2020,"value":122},{"country":"Netherlands","year":2021,"value":131},{"country":"Netherlands","year":2022,"value":131},
      {"country":"Spain","year":2000,"value":155},{"country":"Spain","year":2001,"value":156},{"country":"Spain","year":2002,"value":148},{"country":"Spain","year":2003,"value":141},{"country":"Spain","year":2004,"value":131},{"country":"Spain","year":2005,"value":135},{"country":"Spain","year":2006,"value":131},{"country":"Spain","year":2007,"value":126},{"country":"Spain","year":2008,"value":116},{"country":"Spain","year":2009,"value":127},{"country":"Spain","year":2010,"value":141},{"country":"Spain","year":2011,"value":161},{"country":"Spain","year":2012,"value":159},{"country":"Spain","year":2013,"value":169},{"country":"Spain","year":2014,"value":205},{"country":"Spain","year":2015,"value":216},{"country":"Spain","year":2016,"value":216},{"country":"Spain","year":2017,"value":222},{"country":"Spain","year":2018,"value":229},{"country":"Spain","year":2019,"value":240},{"country":"Spain","year":2020,"value":258},{"country":"Spain","year":2021,"value":276},{"country":"Spain","year":2022,"value":273},
      {"country":"Sweden","year":2000,"value":31},{"country":"Sweden","year":2001,"value":30},{"country":"Sweden","year":2002,"value":27},{"country":"Sweden","year":2003,"value":29},{"country":"Sweden","year":2004,"value":30},{"country":"Sweden","year":2005,"value":32},{"country":"Sweden","year":2006,"value":30},{"country":"Sweden","year":2007,"value":28},{"country":"Sweden","year":2008,"value":24},{"country":"Sweden","year":2009,"value":28},{"country":"Sweden","year":2010,"value":28},{"country":"Sweden","year":2011,"value":27},{"country":"Sweden","year":2012,"value":27},{"country":"Sweden","year":2013,"value":34},{"country":"Sweden","year":2014,"value":44},{"country":"Sweden","year":2015,"value":51},{"country":"Sweden","year":2016,"value":53},{"country":"Sweden","year":2017,"value":53},{"country":"Sweden","year":2018,"value":53},{"country":"Sweden","year":2019,"value":57},{"country":"Sweden","year":2020,"value":61},{"country":"Sweden","year":2021,"value":63},{"country":"Sweden","year":2022,"value":70},
      {"country":"Switzerland","year":2000,"value":24},{"country":"Switzerland","year":2004,"value":19},{"country":"Switzerland","year":2008,"value":17},{"country":"Switzerland","year":2012,"value":21},{"country":"Switzerland","year":2015,"value":30},{"country":"Switzerland","year":2017,"value":34},{"country":"Switzerland","year":2019,"value":37},{"country":"Switzerland","year":2021,"value":45},
      {"country":"UK","year":2000,"value":227},{"country":"UK","year":2001,"value":235},{"country":"UK","year":2002,"value":237},{"country":"UK","year":2003,"value":239},{"country":"UK","year":2004,"value":248},{"country":"UK","year":2005,"value":241},{"country":"UK","year":2006,"value":246},{"country":"UK","year":2007,"value":255},{"country":"UK","year":2008,"value":260},{"country":"UK","year":2009,"value":268},{"country":"UK","year":2010,"value":239},{"country":"UK","year":2011,"value":319},{"country":"UK","year":2012,"value":317},{"country":"UK","year":2013,"value":330},{"country":"UK","year":2014,"value":342},{"country":"UK","year":2015,"value":233},{"country":"UK","year":2016,"value":263},{"country":"UK","year":2017,"value":289},{"country":"UK","year":2018,"value":302},
      {"country":"USA","year":2000,"value":420},{"country":"USA","year":2001,"value":444},{"country":"USA","year":2002,"value":484},{"country":"USA","year":2003,"value":488},{"country":"USA","year":2004,"value":490},{"country":"USA","year":2005,"value":498},{"country":"USA","year":2006,"value":498},{"country":"USA","year":2007,"value":479},{"country":"USA","year":2008,"value":512},{"country":"USA","year":2009,"value":506},{"country":"USA","year":2010,"value":520},{"country":"USA","year":2011,"value":543},{"country":"USA","year":2012,"value":547},{"country":"USA","year":2013,"value":545},{"country":"USA","year":2014,"value":526},{"country":"USA","year":2015,"value":526},{"country":"USA","year":2016,"value":553},{"country":"USA","year":2017,"value":553},{"country":"USA","year":2018,"value":502},{"country":"USA","year":2019,"value":534},{"country":"USA","year":2020,"value":552},{"country":"USA","year":2021,"value":545},{"country":"USA","year":2022,"value":559}
    ]
  },
  "vconcat": [
    {
      "title": {"text": "(A)", "anchor": "start", "frame": "bounds", "font": "Liberation Serif", "fontSize": 40, "fontWeight": "normal", "color": "black", "offset": 23, "dx": 5},
      "width": 1035,
      "height": 572,
      "data": {"name": "a"},
      "mark": {"type": "bar"},
      "encoding": {
        "x": {"field": "country", "type": "nominal", "sort": null,
          "scale": {"domain": ["Australia","Belgium","Canada","China","Denmark","France","Germany","Italy","Japan","Netherlands","Spain","Sweden","Switzerland","UK","USA"], "paddingInner": 0.2, "paddingOuter": 0.1},
          "axis": {"title": null, "labelAngle": -90, "labelFontWeight": "bold", "labelFontSize": 19, "labelPadding": 19}},
        "xOffset": {"field": "year", "type": "ordinal", "scale": {"paddingInner": 0, "paddingOuter": 0}},
        "y": {"field": "value", "type": "quantitative", "scale": {"domain": [0, 450]},
          "axis": {"values": [0, 50, 100, 150, 200, 250, 300, 350, 400, 450], "format": "d", "title": ["Scholorly Output in Medicine", "per Thousand Researchers"], "titleY": 223, "titlePadding": 22}},
        "color": {"field": "year", "type": "quantitative",
          "scale": {"domain": [2000, 2022], "range": ["#dadcec", "#a6aed9", "#4a6fcb", "#35599f", "#1f3a78"]},
          "legend": {"title": "2000-2022", "legendX": 26, "legendY": 13}}
      }
    },
    {
      "title": {"text": "(B)", "anchor": "start", "frame": "bounds", "font": "Liberation Serif", "fontSize": 40, "fontWeight": "normal", "color": "black", "offset": 28, "dx": 5},
      "width": 1035,
      "height": 580,
      "data": {"name": "b"},
      "mark": {"type": "bar"},
      "encoding": {
        "x": {"field": "country", "type": "nominal", "sort": null,
          "scale": {"domain": ["Australia","Belgium","Canada","China","Denmark","France","Germany","Italy","Japan","Netherlands","Spain","Sweden","Switzerland","UK","USA"], "paddingInner": 0.2, "paddingOuter": 0.1},
          "axis": {"title": null, "labelAngle": -90, "labelFontWeight": "bold", "labelFontSize": 19, "labelPadding": 19}},
        "xOffset": {"field": "year", "type": "ordinal", "scale": {"paddingInner": 0, "paddingOuter": 0}},
        "y": {"field": "value", "type": "quantitative", "scale": {"domain": [0, 2]},
          "axis": {"values": [0, 0.2, 0.4, 0.6, 0.8, 1, 1.2, 1.4, 1.6, 1.8, 2], "format": ".1f", "title": ["Scholorly Output in Medicine", "per Million GERD"], "titleY": 221, "titlePadding": 26}},
        "color": {"field": "year", "type": "quantitative",
          "scale": {"domain": [2000, 2022], "range": ["#dadcec", "#a6aed9", "#4a6fcb", "#35599f", "#1f3a78"]},
          "legend": {"title": "2000-2022", "legendX": 30, "legendY": 30}}
      }
    },
    {
      "title": {"text": "(C)", "anchor": "start", "frame": "bounds", "font": "Liberation Serif", "fontSize": 40, "fontWeight": "normal", "color": "black", "offset": 43, "dx": 5},
      "width": 1035,
      "height": 584,
      "data": {"name": "c"},
      "mark": {"type": "bar"},
      "encoding": {
        "x": {"field": "country", "type": "nominal", "sort": null,
          "scale": {"domain": ["Australia","Belgium","Canada","China","Denmark","France","Germany","Italy","Japan","Netherlands","Spain","Sweden","Switzerland","UK","USA"], "paddingInner": 0.2, "paddingOuter": 0.1},
          "axis": {"title": null, "labelAngle": -90, "labelFontWeight": "bold", "labelFontSize": 19, "labelPadding": 19}},
        "xOffset": {"field": "year", "type": "ordinal", "scale": {"paddingInner": 0, "paddingOuter": 0}},
        "y": {"field": "value", "type": "quantitative", "scale": {"domain": [0, 1100]},
          "axis": {"values": [0, 100, 200, 300, 400, 500, 600, 700, 800, 900, 1000, 1100], "format": "d", "title": ["Scholorly Output in Medicine", "per Thousand GERD/Researcher"], "titleY": 236, "titlePadding": 8}},
        "color": {"field": "year", "type": "quantitative",
          "scale": {"domain": [2000, 2022], "range": ["#dadcec", "#a6aed9", "#4a6fcb", "#35599f", "#1f3a78"]},
          "legend": {"title": "2000-2022", "legendX": 33, "legendY": 22}}
      }
    }
  ],
  "spacing": 74,
  "resolve": {"scale": {"color": "independent"}, "legend": {"color": "independent"}},
  "config": {
    "font": "Open Sans",
    "view": {"stroke": null},
    "bar": {"stroke": null},
    "axis": {
      "domainColor": "#d9d9d9",
      "domainWidth": 1.5,
      "ticks": false,
      "grid": false,
      "labelFont": "Open Sans",
      "labelFontSize": 20,
      "labelColor": "#595959",
      "labelPadding": 22,
      "titleFont": "Open Sans",
      "titleFontSize": 25,
      "titleFontWeight": "bold",
      "titleColor": "#595959",
      "titleLineHeight": 34
    },
    "legend": {
      "orient": "none",
      "direction": "horizontal",
      "titleOrient": "bottom",
      "titleAnchor": "start",
      "titleFont": "Open Sans",
      "titleFontSize": 21,
      "titleFontWeight": "normal",
      "titleColor": "black",
      "titlePadding": 2,
      "gradientLength": 104,
      "gradientThickness": 27,
      "gradientStrokeWidth": 0,
      "labelExpr": "''",
      "labelFontSize": 1,
      "labelOffset": 0
    }
  }
}
